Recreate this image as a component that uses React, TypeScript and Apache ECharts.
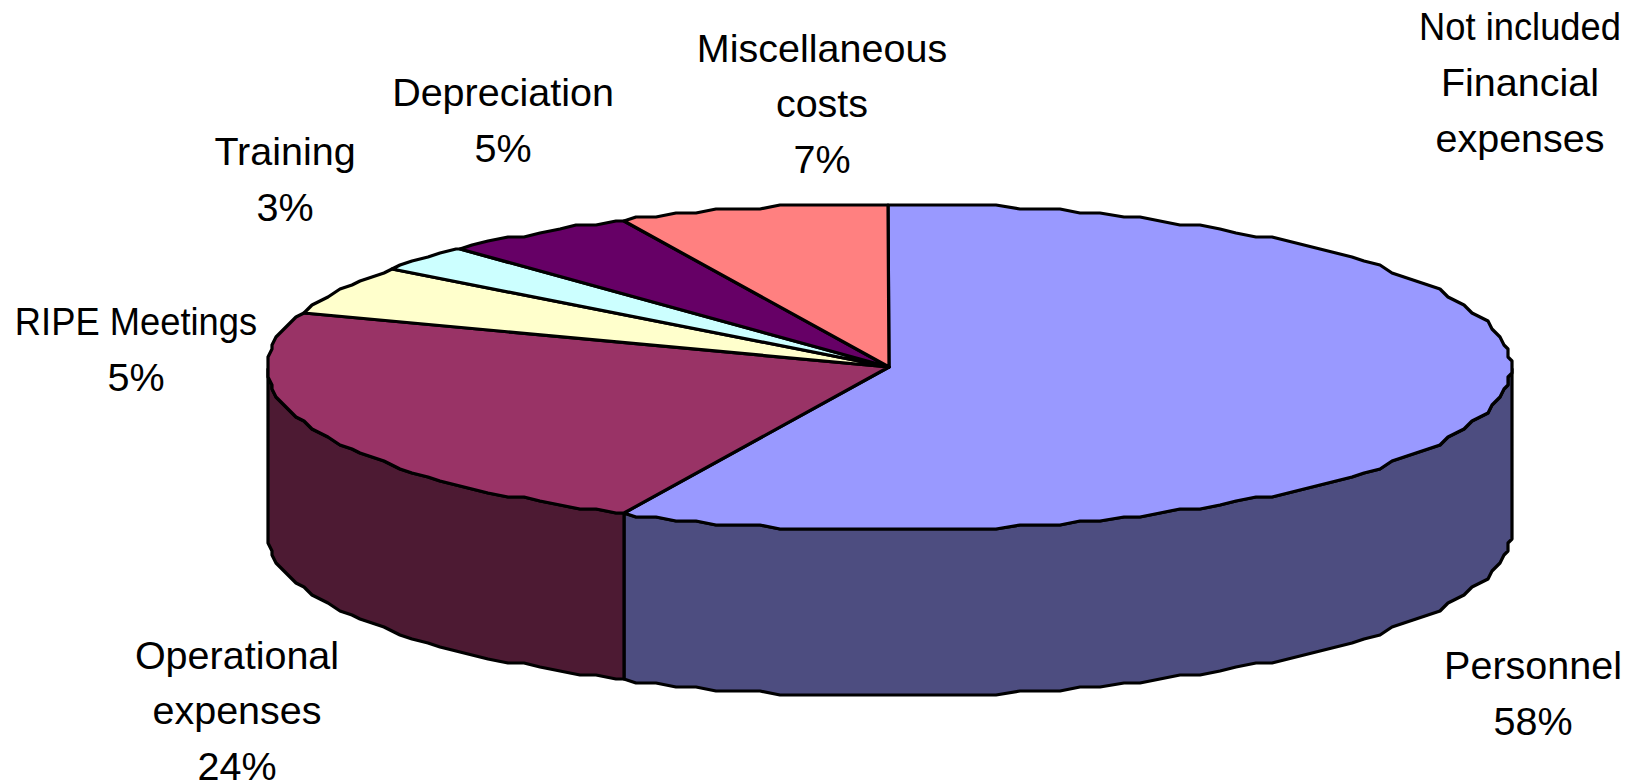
import React, { useEffect, useRef } from "react";
import * as echarts from "echarts";

const categories = [
  "Personnel",
  "Operational\nexpenses",
  "RIPE Meetings",
  "Training",
  "Depreciation",
  "Miscellaneous\ncosts",
];
const values = [57.5, 23.66, 4.89, 2.62, 5.14, 7.06];
const emptyCategory = "Not included\nFinancial\nexpenses";

const topColors = ["#9999FF", "#993366", "#FFFFCC", "#CCFFFF", "#660066", "#FF8080"];
const sideColors = ["#4D4D80", "#4D1A33", "#80801A", "#668080", "#330033", "#804040"];

const CX = 889;
const CY = 367;
const RX = 622;
const RY = 163;
const DEPTH = 166;
const total = values.reduce((a, b) => a + b, 0);

const snap = (v: number, g: number) => Math.round(v / g) * g;

// Angle measured clockwise from the top of the pie.
function rim(deg: number, dy = 0): number[] {
  const r = (deg * Math.PI) / 180;
  const x = CX + RX * Math.sin(r);
  const y = CY - RY * Math.cos(r);
  return [snap(x, 4), snap(y - 1, 4) + 1 + dy];
}

function arc(a0: number, a1: number, dy = 0): number[][] {
  const pts: number[][] = [rim(a0, dy)];
  const first = Math.ceil(a0 / 2 + 1e-6) * 2;
  for (let a = first; a < a1; a += 2) pts.push(rim(a, dy));
  pts.push(rim(a1, dy));
  return pts;
}

function renderSlice(_params: any, api: any) {
  const i = api.value(0) as number;
  const before = values.slice(0, i).reduce((a, b) => a + b, 0);
  const a0 = (before / total) * 360;
  const a1 = ((before + values[i]) / total) * 360;
  const common = { lineWidth: 3.2, stroke: "#000", lineJoin: "round" };
  const children: any[] = [];
  const s0 = Math.max(a0, 90);
  const s1 = Math.min(a1, 270);
  if (s1 > s0) {
    const upper = arc(s0, s1);
    const lower = arc(s0, s1, DEPTH).reverse();
    children.push({
      type: "polygon",
      shape: { points: [...upper, ...lower] },
      style: { ...common, fill: sideColors[i] },
    });
  }
  children.push({
    type: "polygon",
    shape: { points: [[CX, CY], ...arc(a0, a1)] },
    style: { ...common, fill: topColors[i] },
  });
  return { type: "group", children };
}

const labelPlaces = [
  { x: 1533, y: 693 },
  { x: 237, y: 710 },
  { x: 136, y: 349 },
  { x: 285, y: 179 },
  { x: 503, y: 120 },
  { x: 822, y: 103 },
];

const LINE = 55.5;

function labelLines(text: string, x: number, midY: number, style: any) {
  const lines = text.split("\n");
  return lines.map((line, k) => ({
    type: "text",
    x,
    y: midY + (k - (lines.length - 1) / 2) * LINE,
    scaleX: line.includes(" ") ? 0.92 : 1,
    style: { ...style, text: line },
  }));
}

export default function App() {
  const ref = useRef<HTMLDivElement>(null);
  useEffect(() => {
    document.body.style.margin = "0";
    const chart = echarts.init(ref.current!, undefined, { renderer: "svg" });
    const textStyle = {
      fontFamily: "Liberation Sans",
      fontSize: 39.5,
      fill: "#000",
      align: "center",
      verticalAlign: "middle",
    };
    chart.setOption({
      animation: false,
      backgroundColor: "#fff",
      series: [
        {
          type: "custom",
          coordinateSystem: "none",
          silent: true,
          renderItem: renderSlice,
          data: values.map((v, i) => [i, v]),
        },
      ],
      graphic: [
        ...categories.flatMap((name, i) =>
          labelLines(
            `${name}\n${Math.round(values[i])}%`,
            labelPlaces[i].x,
            labelPlaces[i].y,
            textStyle
          )
        ),
        ...labelLines(emptyCategory, 1520, 82, textStyle),
      ],
    });
    return () => chart.dispose();
  }, []);
  return <div ref={ref} style={{ width: 1644, height: 782, overflow: "hidden" }} />;
}
